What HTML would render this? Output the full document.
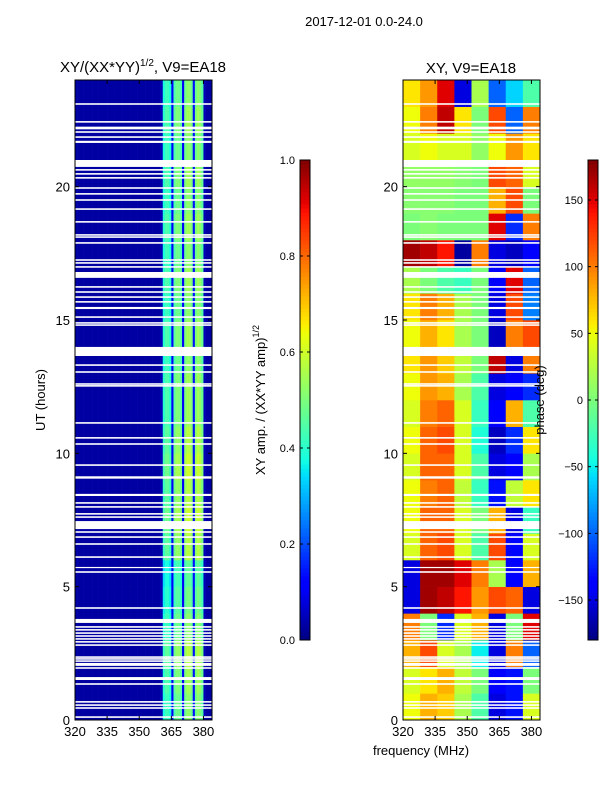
<!DOCTYPE html>
<html><head><meta charset="utf-8"><style>
body{margin:0;background:#fff;font-family:"Liberation Sans",sans-serif}
svg text{font-family:"Liberation Sans",sans-serif;fill:#000}
</style></head><body>
<svg id="c" width="600" height="800" xmlns="http://www.w3.org/2000/svg">
<text x="364" y="26" font-size="13" text-anchor="middle">2017-12-01 0.0-24.0</text>
<text x="143" y="72" font-size="15" text-anchor="middle">XY/(XX*YY)<tspan font-size="10" dy="-6">1/2</tspan><tspan dy="6">, V9=EA18</tspan></text>
<text x="471" y="73" font-size="15" text-anchor="middle">XY, V9=EA18</text>
<text transform="translate(45,400) rotate(-90)" font-size="13" text-anchor="middle">UT (hours)</text>
<text x="421" y="755" font-size="13" text-anchor="middle">frequency (MHz)</text>
<text transform="translate(265,400) rotate(-90)" font-size="13" text-anchor="middle">XY amp. / (XX*YY amp)<tspan font-size="9" dy="-6">1/2</tspan></text>
<g id="left"></g><g id="right"></g><g id="cb1"></g><g id="cb2"></g>
<text transform="translate(544,400) rotate(-90)" font-size="13" text-anchor="middle">phase (deg)</text>
</svg>
<script>
// frequency channels 320..383 MHz, amplitude profile
const ampProfile=[0.03,0.03,0.03,0.03,0.03,0.03,0.03,0.03,0.03,0.03,0.03,0.03,0.03,0.03,0.03,0.03,0.03,0.03,0.03,0.03,0.03,0.03,0.03,0.03,0.03,0.03,0.03,0.03,0.03,0.03,0.03,0.03,0.03,0.03,0.03,0.03,0.03,0.03,0.03,0.03,0.05,0.38,0.42,0.42,0.38,0.12,0.44,0.48,0.48,0.44,0.12,0.48,0.52,0.52,0.48,0.14,0.48,0.52,0.5,0.45,0.05,0.03,0.03,0.03];
// hourly amplitude scale, hour 0..23
const ampHourScale=[1.0,1.05,1.1,1.0,0.95,0.9,1.1,1.15,1.1,1.15,1.1,1.05,1.05,1.0,1.05,1.0,1.05,1.0,1.05,1.0,1.05,1.0,1.05,1.0];
// phase grid: rows hour 0..23, cols 8 MHz bins from 320
const phaseGrid=[
[50,80,70,20,-20,-150,-130,40],
[40,60,80,30,0,-140,-130,0],
[80,120,40,20,-50,-150,100,-100],
[100,0,-120,40,80,-150,0,150],
[-150,170,160,140,90,120,110,-150],
[-150,170,170,150,100,20,-140,80],
[40,110,120,40,-20,120,-140,40],
[50,110,110,40,0,80,-150,-30],
[50,100,110,30,-30,-130,30,60],
[40,110,110,40,-20,-150,-140,20],
[50,110,120,40,-40,-160,-120,60],
[40,100,110,40,-30,-140,80,-20],
[50,90,80,20,-20,-150,-140,-120],
[60,90,70,30,0,160,-150,100],
[50,80,60,20,0,-160,100,120],
[60,100,80,20,0,-150,120,-90],
[20,0,-20,-30,0,-140,150,-100],
[170,160,140,-170,100,-150,-160,-140],
[0,5,0,0,0,150,-120,100],
[5,5,5,0,0,80,120,0],
[10,10,10,5,0,120,110,40],
[40,50,40,40,10,50,90,60],
[50,100,160,60,0,120,-100,100],
[60,90,150,-150,20,-100,-60,-20]];
// flagged (blank) time ranges in hours
const gaps=[[23.07,23.13],[22.4,22.46],[22.15,22.25],[22.02,22.08],[21.83,21.89],[21.64,21.72],[20.74,21.0],[20.6,20.66],[20.45,20.51],[20.3,20.36],[19.92,19.98],[19.7,19.76],[19.47,19.53],[19.13,19.19],[18.65,18.71],[18.16,18.22],[18.08,18.14],[17.86,17.92],[17.22,17.28],[17.11,17.17],[16.96,17.02],[16.58,16.8],[16.21,16.27],[16.02,16.08],[15.83,15.89],[15.65,15.71],[15.41,15.49],[15.08,15.14],[14.86,14.92],[14.78,14.84],[13.65,13.99],[13.28,13.34],[13.02,13.08],[12.57,12.63],[12.5,12.56],
[11.11,11.17],[10.55,10.61],[10.32,10.38],[9.53,9.59],[9.05,9.14],[8.4,8.48],[8.11,8.17],[7.96,8.02],[7.7,7.76],[7.58,7.64],[7.16,7.46],[7.02,7.08],[6.83,6.89],[6.57,6.63],[6.08,6.14],[5.7,5.74],[5.52,5.58],[4.17,4.23],[3.64,3.79],[3.46,3.52],[3.35,3.41],[3.23,3.29],[3.12,3.18],[3.01,3.07],[2.9,2.96],[2.78,2.84],[2.33,2.39],[2.26,2.32],[2.18,2.24],[2.03,2.14],[1.92,1.98],[1.5,1.61],[1.32,1.38],[0.65,0.71],[0.53,0.59],[0.42,0.48],[0.08,0.14]];
const xTicks=[320,335,350,365,380];
const yTicks=[0,5,10,15,20];
const ampTicks=[0.0,0.2,0.4,0.6,0.8,1.0];
const phaseTicks=[-150,-100,-50,0,50,100,150];

const NS="http://www.w3.org/2000/svg";
function seg(pts,v){for(let i=1;i<pts.length;i++){if(v<=pts[i][0]){const[a,ya]=pts[i-1],[b,yb]=pts[i];return ya+(yb-ya)*(v-a)/(b-a);}}return pts[pts.length-1][1];}
const JR=[[0,0],[0.35,0],[0.66,1],[0.89,1],[1,0.5]],JG=[[0,0],[0.125,0],[0.375,1],[0.64,1],[0.91,0],[1,0]],JB=[[0,0.5],[0.11,1],[0.34,1],[0.65,0],[1,0]];
function jet(v){v=Math.max(0,Math.min(1,v));
 return `rgb(${Math.round(seg(JR,v)*255)},${Math.round(seg(JG,v)*255)},${Math.round(seg(JB,v)*255)})`;}
function mk(p,tag,at){const e=document.createElementNS(NS,tag);for(const k in at)e.setAttribute(k,at[k]);p.appendChild(e);return e;}
const T=80,B=720;
const yS=h=>B-(B-T)*h/24;
function panel(gid,x0,x1,kind){
 const g=document.getElementById(gid);
 const xS=f=>x0+(x1-x0)*(f-320)/64;
 if(kind==='amp'){
  for(let h=0;h<24;h++)for(let c=0;c<64;c++){
   const r=mk(g,'rect',{x:xS(320+c),y:yS(h+1),width:xS(321)-xS(320)+0.3,height:yS(h)-yS(h+1)+0.3,fill:jet(ampProfile[c]*(ampProfile[c]>0.2?ampHourScale[h]:1))});
   
   
  }
 } else {
  for(let h=0;h<24;h++)for(let c=0;c<8;c++){
   const r=mk(g,'rect',{x:xS(320+8*c),y:yS(h+1),width:xS(328)-xS(320)+0.3,height:yS(h)-yS(h+1)+0.3,fill:jet((phaseGrid[h][c]+180)/360)});
   
   
  }
 }
 gaps.forEach(([a,b])=>{const r=mk(g,'rect',{x:x0,y:yS(b),width:x1-x0,height:Math.max(1.2,yS(a)-yS(b)),fill:'#fff'});
  
  });
 const fr=mk(g,'rect',{x:x0,y:T,width:x1-x0,height:B-T,fill:'none',stroke:'#000','stroke-width':1});
 
 
 xTicks.forEach(v=>{const x=xS(v);
  mk(g,'line',{x1:x,x2:x,y1:B,y2:B-4,stroke:'#000'});mk(g,'line',{x1:x,x2:x,y1:T,y2:T+4,stroke:'#000'});
  const t=mk(g,'text',{x:x,y:B+16,'font-size':13,'text-anchor':'middle'});t.textContent=v;
  
  });
 yTicks.forEach(v=>{const y=yS(v);
  mk(g,'line',{x1:x0,x2:x0+4,y1:y,y2:y,stroke:'#000'});mk(g,'line',{x1:x1,x2:x1-4,y1:y,y2:y,stroke:'#000'});
  const t=mk(g,'text',{x:x0-5,y:y+5,'font-size':13,'text-anchor':'end'});t.textContent=v;
  
  });
}
panel('left',75,212,'amp');
panel('right',403,540,'phase');
function cbar(gid,x,lo,hi,ticks,fmt){
 const g=document.getElementById(gid);const top=160,bot=640,n=120;
 for(let i=0;i<n;i++){const r=mk(g,'rect',{x:x,y:bot-(i+1)*(bot-top)/n,width:10,height:(bot-top)/n+0.5,fill:jet((i+0.5)/n)});
  
  }
 mk(g,'rect',{x:x,y:top,width:10,height:bot-top,fill:'none',stroke:'#000','stroke-width':1});
 ticks.forEach(v=>{const y=bot-(bot-top)*(v-lo)/(hi-lo);
  mk(g,'line',{x1:x,x2:x+3,y1:y,y2:y,stroke:'#000'});mk(g,'line',{x1:x+10,x2:x+7,y1:y,y2:y,stroke:'#000'});
  const t=mk(g,'text',{x:x-5,y:y+4,'font-size':11,'text-anchor':'end'});t.textContent=fmt(v);
  
  });
}
cbar('cb1',300,0,1,ampTicks,v=>v.toFixed(1));
cbar('cb2',588,-180,180,phaseTicks,v=>v<0?'\u2212'+(-v):String(v));
</script>
</body></html>
